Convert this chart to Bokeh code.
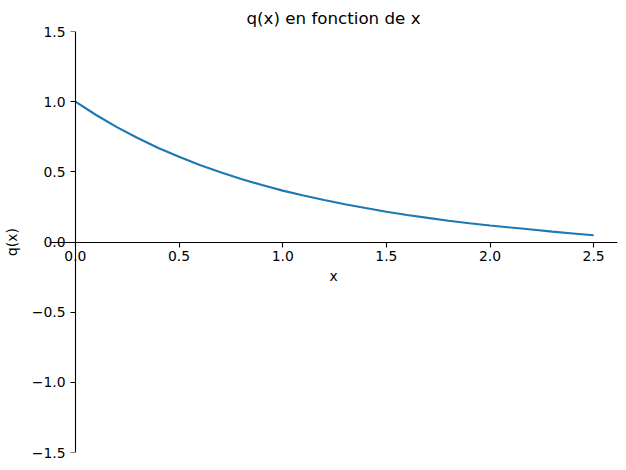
from bokeh.plotting import figure
from bokeh.models import Range1d, FixedTicker, LinearAxis, CustomJSTickFormatter
from bokeh.embed import file_html
from bokeh.resources import INLINE

# data
x_vals = [0.0, 0.1, 0.2, 0.3, 0.4, 0.5, 0.6, 0.7, 0.8, 0.9, 1.0, 1.1, 1.2,
          1.3, 1.4, 1.5, 1.6, 1.7, 1.8, 1.9, 2.0, 2.1, 2.2, 2.3, 2.4, 2.5]
q_vals = [1.000, 0.905, 0.819, 0.741, 0.670, 0.607, 0.549, 0.497, 0.449,
          0.406, 0.366, 0.331, 0.299, 0.269, 0.242, 0.216, 0.193, 0.172,
          0.152, 0.134, 0.118, 0.103, 0.089, 0.074, 0.061, 0.048]
x_ticks = [0.0, 0.5, 1.0, 1.5, 2.0, 2.5]
y_ticks = [-1.5, -1.0, -0.5, 0.0, 0.5, 1.0, 1.5]

FONT = "DejaVu Sans"

p = figure(width=626, height=470, output_backend="svg", toolbar_location=None,
           x_range=Range1d(-0.125, 2.615), y_range=Range1d(-1.5, 1.5),
           x_axis_type=None, y_axis_type=None,
           min_border_left=47, min_border_right=9, min_border_top=31,
           min_border_bottom=18, title="q(x) en fonction de x")
p.outline_line_color = None
p.background_fill_color = "white"
p.border_fill_color = "white"
p.title.align = "center"
p.title.text_font = FONT
p.title.text_font_size = "16.7px"
p.title.text_font_style = "normal"
p.title.text_color = "black"
p.title.standoff = 8

fmt = CustomJSTickFormatter(code="return tick.toFixed(1).replace('-', '\u2212');")

def style(ax):
    ax.formatter = fmt
    ax.major_tick_out = 5
    ax.major_tick_in = 0
    ax.minor_tick_out = 0
    ax.minor_tick_in = 0
    ax.axis_line_width = 1.1
    ax.major_tick_line_width = 1.1
    ax.axis_line_color = "black"
    ax.major_tick_line_color = "black"
    ax.major_label_text_font = FONT
    ax.major_label_text_font_size = "13.9px"
    ax.major_label_text_color = "black"
    ax.major_label_standoff = 5
    ax.axis_label_text_font = FONT
    ax.axis_label_text_font_size = "13.9px"
    ax.axis_label_text_font_style = "normal"
    ax.axis_label_text_color = "black"
    ax.axis_label_standoff = 5

# x axis: spine at y = 0
xaxis = LinearAxis(ticker=FixedTicker(ticks=x_ticks), axis_label="x")
style(xaxis)
xaxis.fixed_location = 0
xaxis.major_label_standoff = 4
xaxis.axis_label_standoff = 3
p.add_layout(xaxis, "below")

# y axis spine and ticks at x = 0 (labels drawn by the side axis below)
yspine = LinearAxis(ticker=FixedTicker(ticks=y_ticks))
style(yspine)
yspine.fixed_location = 0
yspine.major_label_text_alpha = 0
p.add_layout(yspine, "left")

# y tick labels and axis label, in the left panel
ylabels = LinearAxis(ticker=FixedTicker(ticks=y_ticks), axis_label="q(x)")
style(ylabels)
ylabels.axis_line_color = None
ylabels.major_tick_line_color = None
ylabels.major_tick_out = 0
ylabels.major_label_standoff = -16
ylabels.axis_label_standoff = 9
p.add_layout(ylabels, "left")

p.line(x_vals, q_vals, line_color="#1f77b4", line_width=2.1)

open("out.html", "w").write(file_html(p, INLINE))
